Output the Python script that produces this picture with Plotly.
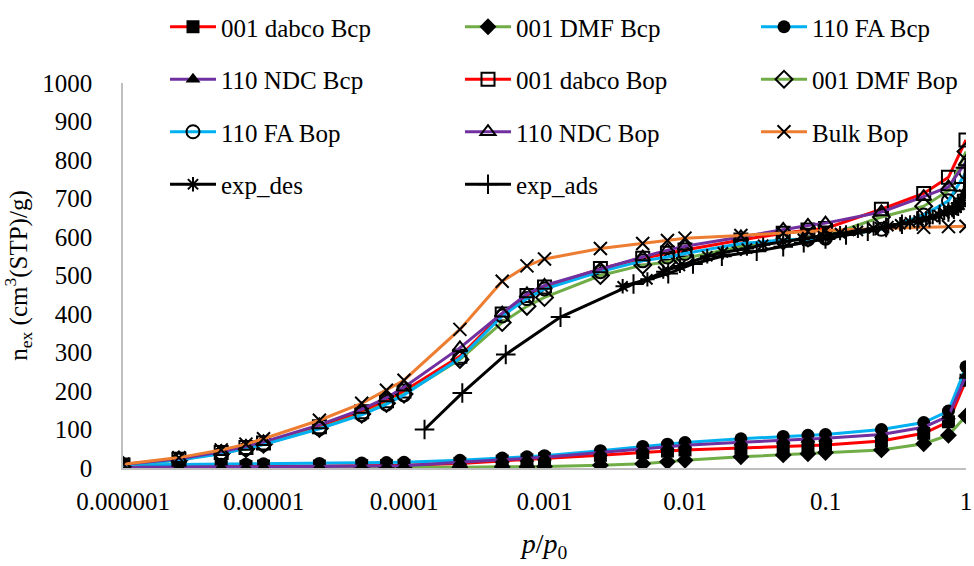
import plotly.graph_objects as go

# ---------------- data ----------------
P = [1e-6, 2.5e-6, 5e-6, 7.5e-6, 1e-5, 2.5e-5, 5e-5, 7.5e-5, 1e-4, 2.5e-4, 5e-4, 7.5e-4,
     1e-3, 2.5e-3, 5e-3, 7.5e-3, 0.01, 0.025, 0.05, 0.075, 0.1, 0.25, 0.5, 0.75, 1.0]

dabco_bcp = [4, 4, 4, 4, 5, 5, 6, 6, 7, 12, 18, 21, 24, 33, 40, 44, 47, 52, 56, 58, 60, 70, 90, 120, 228]
dmf_bcp   = [1, 1, 1, 1, 1, 1, 1, 1, 1, 2, 3, 3, 4, 7, 11, 16, 20, 29, 34, 37, 40, 47, 63, 85, 135]
fa_bcp    = [8, 9, 10, 10, 11, 12, 13, 14, 15, 20, 26, 29, 32, 45, 56, 62, 66, 76, 82, 85, 87, 100, 118, 148, 263]
ndc_bcp   = [2, 2, 2, 2, 3, 4, 5, 5, 6, 15, 22, 25, 28, 40, 50, 55, 59, 67, 72, 75, 77, 87, 106, 135, 240]

dabco_bop = [8, 23, 40, 53, 65, 107, 146, 175, 200, 290, 400, 448, 470, 518, 545, 558, 566, 592, 610, 618, 622, 672, 713, 755, 852]
dmf_bop   = [7, 21, 38, 50, 62, 103, 140, 168, 192, 282, 378, 420, 443, 500, 527, 535, 545, 575, 590, 598, 602, 652, 680, 720, 822]
fa_bop    = [7, 21, 37, 50, 61, 102, 138, 166, 190, 285, 395, 440, 465, 510, 538, 548, 557, 583, 592, 594, 597, 620, 657, 694, 768]
ndc_bop   = [9, 24, 42, 56, 68, 112, 152, 182, 210, 312, 402, 452, 474, 517, 548, 566, 576, 600, 620, 630, 636, 665, 705, 730, 795]
bulk_bop  = [10, 27, 47, 62, 76, 124, 168, 202, 228, 360, 485, 525, 543, 570, 583, 591, 597, 604, 610, 614, 617, 622, 625, 627, 628]

exp_des_p = [0.0036, 0.0054, 0.007, 0.0092, 0.0144, 0.0186, 0.0276, 0.036, 0.05, 0.069, 0.096, 0.127,
             0.17, 0.22, 0.28, 0.34, 0.4, 0.46, 0.52, 0.58, 0.64, 0.7, 0.75, 0.8, 0.85, 0.9, 0.94, 0.97]
exp_des_n = [472, 490, 510, 525, 550, 560, 570, 580, 588, 595, 602, 610,
             616, 622, 628, 633, 638, 643, 648, 652, 657, 662, 666, 670, 676, 684, 695, 710]

exp_ads_p = [1.4e-4, 2.6e-4, 5.3e-4, 1.3e-3, 4.3e-3, 7.6e-3, 0.0114, 0.0183, 0.0324, 0.05, 0.07, 0.1,
             0.14, 0.2, 0.27, 0.35, 0.45, 0.55, 0.65, 0.75, 0.82, 0.88, 0.92, 0.95, 0.97, 0.98, 0.99]
exp_ads_n = [100, 195, 295, 392, 478, 505, 530, 550, 563, 575, 585, 595,
             605, 615, 625, 633, 642, 650, 658, 665, 672, 680, 688, 700, 720, 740, 780]

tick_vals = [1e-6, 1e-5, 1e-4, 1e-3, 1e-2, 1e-1, 1]
tick_text = ["0.000001", "0.00001", "0.0001", "0.001", "0.01", "0.1", "1"]

RED, GREEN, BLUE, PURPLE, ORANGE = "#FF0000", "#70AD47", "#00B0F0", "#7030A0", "#ED7D31"
FONT = "'Liberation Serif', 'Times New Roman', 'DejaVu Serif', Times, serif"

# (name, x, y, line colour, symbol, filled, legend)
series = [
    ("001 dabco Bcp", P, dabco_bcp, RED, "square", True, "legend"),
    ("001 DMF Bcp", P, dmf_bcp, GREEN, "diamond", True, "legend2"),
    ("110 FA Bcp", P, fa_bcp, BLUE, "circle", True, "legend3"),
    ("110 NDC Bcp", P, ndc_bcp, PURPLE, "triangle-up", True, "legend"),
    ("001 dabco Bop", P, dabco_bop, RED, "square-open", False, "legend2"),
    ("001 DMF Bop", P, dmf_bop, GREEN, "diamond-open", False, "legend3"),
    ("110 FA Bop", P, fa_bop, BLUE, "circle-open", False, "legend"),
    ("110 NDC Bop", P, ndc_bop, PURPLE, "triangle-up-open", False, "legend2"),
    ("Bulk Bop", P, bulk_bop, ORANGE, "x-thin-open", False, "legend3"),
]

fig = go.Figure()
for name, xs, ys, col, sym, filled, leg in series:
    if filled:
        mk = dict(symbol=sym, size=13, color="black", line=dict(width=0))
    else:
        mk = dict(symbol=sym, size=13, color="black", line=dict(width=2, color="black"))
    fig.add_trace(go.Scatter(x=xs, y=ys, name=name, mode="lines+markers",
                             line=dict(color=col, width=3), marker=mk,
                             legend=leg, legendgroup=name))

fig.add_trace(go.Scatter(x=exp_des_p, y=exp_des_n, name="exp_des", mode="lines+markers",
                         line=dict(color="black", width=3),
                         marker=dict(symbol="asterisk-open", size=12,
                                     line=dict(width=2, color="#2F528F")),
                         legend="legend", legendgroup="exp_des"))
fig.add_trace(go.Scatter(x=exp_ads_p, y=exp_ads_n, name="exp_ads", mode="lines+markers",
                         line=dict(color="black", width=3),
                         marker=dict(symbol="cross-thin-open", size=14,
                                     line=dict(width=2, color="black")),
                         legend="legend2", legendgroup="exp_ads"))

W, H = 974, 566
ML, MR, MT, MB = 123, 8, 83, 98
PW, PH = W - ML - MR, H - MT - MB


def px_x(px):
    return (px - ML) / PW


def px_y(py):
    return (H - MB - py) / PH


leg_common = dict(xanchor="left", yanchor="top",
                  bgcolor="rgba(0,0,0,0)", font=dict(family=FONT, size=25, color="black"),
                  tracegroupgap=17, itemwidth=46, y=px_y(4))
fig.update_layout(
    width=W, height=H,
    margin=dict(l=ML, r=MR, t=MT, b=MB, autoexpand=False),
    paper_bgcolor="white", plot_bgcolor="white",
    font=dict(family=FONT, size=25, color="black"),
    legend=dict(leg_common, x=px_x(165)),
    legend2=dict(leg_common, x=px_x(460)),
    legend3=dict(leg_common, x=px_x(756)),
    xaxis=dict(type="log", range=[-6, 0], tickvals=tick_vals, ticktext=tick_text,
               showgrid=False, zeroline=False, showline=True, linecolor="#BFBFBF", linewidth=1.5,
               ticks="", ticklabelstandoff=10, tickfont=dict(family=FONT, size=25, color="black"),
               title=dict(text="<i>p</i>/<i>p</i><sub>0</sub>", font=dict(family=FONT, size=28),
                          standoff=20)),
    yaxis=dict(range=[0, 1000], dtick=100, showgrid=False, zeroline=False, showline=True,
               linecolor="#BFBFBF", linewidth=1.5, ticks="", ticklabelstandoff=24,
               tickfont=dict(family=FONT, size=25, color="black"),
               title=dict(text="n<sub>ex</sub> (cm<sup>3</sup>(STP)/g)",
                          font=dict(family=FONT, size=25), standoff=12)),
)

fig.write_html("out.html")
